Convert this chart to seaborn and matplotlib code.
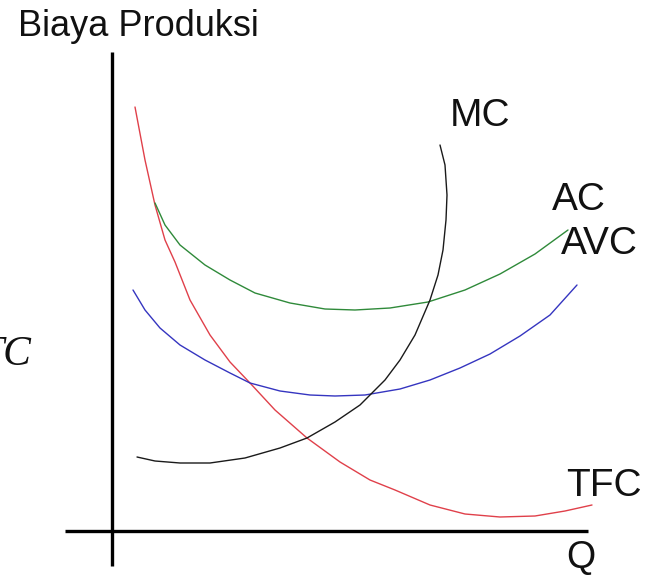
import numpy as np
import pandas as pd
import matplotlib
matplotlib.use("Agg")
import matplotlib.pyplot as plt
import seaborn as sns

# curve points (pixel space, y grows downward)
TFC_X = [135, 145, 155, 165, 175, 190, 210, 230, 250, 275, 307, 340, 370, 395, 430, 465, 500, 535, 565, 592]
TFC_Y = [107, 160, 205, 240, 262, 300, 335, 362, 383, 410, 438, 462, 480, 490, 505, 514, 517, 516, 511, 505]

AC_X = [155, 165, 180, 205, 230, 255, 290, 325, 355, 390, 428, 465, 500, 535, 568]
AC_Y = [203, 225, 245, 265, 280, 293, 303, 309, 310, 308, 302, 290, 274, 254, 230]

AVC_X = [133, 145, 160, 180, 205, 230, 250, 280, 310, 335, 365, 400, 430, 460, 490, 520, 550, 577]
AVC_Y = [290, 310, 328, 345, 360, 373, 383, 391, 395, 396, 395, 389, 380, 368, 354, 336, 315, 285]

MC_X = [137, 155, 180, 210, 245, 280, 307, 335, 360, 385, 400, 415, 430, 438, 443, 446, 447, 445, 440]
MC_Y = [457, 461, 463, 463, 458, 448, 438, 422, 405, 380, 360, 335, 300, 275, 250, 220, 195, 165, 145]

LABELS = ["MC", "AC", "AVC", "TFC"]
LABEL_POS = [(450, 116), (552, 200), (561, 244), (566, 486)]

sns.set_style("white")
plt.rcParams['font.family'] = ['Liberation Sans', 'DejaVu Sans']

fig = plt.figure(figsize=(6.54, 5.78), dpi=100)
ax = fig.add_axes([0, 0, 1, 1])
ax.set_xlim(0, 654)
ax.set_ylim(578, 0)
ax.axis('off')

curves = [(TFC_X, TFC_Y, '#e0404a'), (AC_X, AC_Y, '#2f8a3a'),
          (AVC_X, AVC_Y, '#3535c0'), (MC_X, MC_Y, '#1a1a1a')]
for xs, ys, col in curves:
    df = pd.DataFrame({'x': xs, 'y': ys})
    sns.lineplot(data=df, x='x', y='y', sort=False, estimator=None,
                 color=col, linewidth=1.0, ax=ax)

# axes of the diagram
ax.plot([112, 112], [52, 566], color='black', linewidth=2.4, solid_capstyle='butt')
ax.plot([65, 588], [531, 531], color='black', linewidth=2.4, solid_capstyle='butt')

for lab, (x, y) in zip(LABELS, LABEL_POS):
    ax.text(x, y, lab, fontsize=28, ha='left', va='center', color='#111111')

ax.text(18, 27, "Biaya Produksi", fontsize=26, ha='left', va='center', color='#111111')
ax.text(566, 558, "Q", fontsize=27, ha='left', va='center', color='#111111')
ax.text(31, 355, "TC", fontsize=30, ha='right', va='center', color='#111111',
        family=['Liberation Serif', 'DejaVu Serif'], style='italic')

ax.set_xlabel('')
ax.set_ylabel('')
fig.savefig('out.png', dpi=100)
